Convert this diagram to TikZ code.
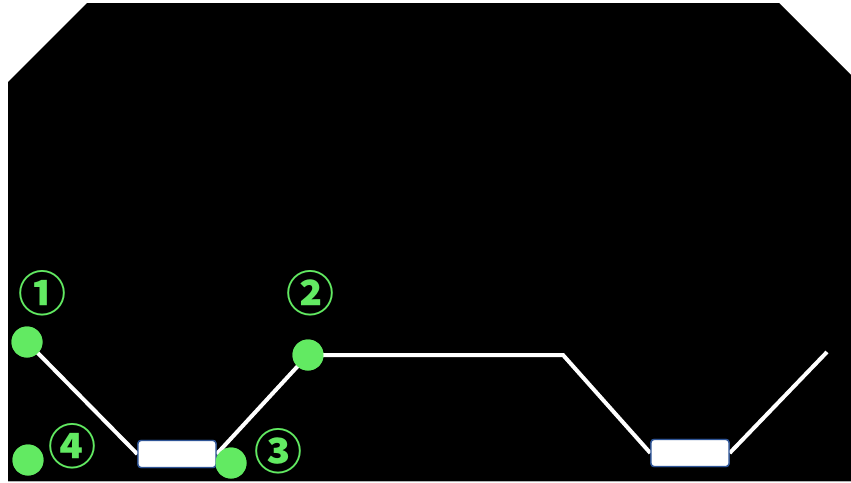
\documentclass[tikz,border=0pt]{standalone}
\usepackage{fontspec}
\newfontfamily\cjk{Noto Sans CJK JP}
\definecolor{dotgreen}{HTML}{62EA62}
\definecolor{rectblue}{HTML}{2F5597}
\begin{document}
\begin{tikzpicture}[x=1pt,y=-1pt,
  dot/.style={circle,fill=dotgreen,draw=none,minimum size=31pt,inner sep=0pt},
  num/.style={text=dotgreen,font=\cjk\bfseries\fontsize{48}{48}\selectfont,inner sep=0pt},
  box/.style={rectangle,rounded corners=3pt,fill=white,draw=rectblue,line width=1.4pt,minimum width=78pt,minimum height=27pt,inner sep=0pt},
  wire/.style={white,line width=4pt}]
\useasboundingbox (0,0) rectangle (851,482);
\fill[white] (0,0) rectangle (851,482);
\fill[black] (8,82) -- (87,3) -- (779,3) -- (852,76) -- (852,481) -- (8,481) -- cycle;
\draw[gray!60,line width=1pt] (8,481) -- (851,481);
% boxes
\node[box] (r1) at (177,454) {};
\node[box] (r2) at (690,453) {};
% coordinates
\coordinate (k1) at (563,355);
\coordinate (e1) at (827,352);
% dots
\node[dot] (d1) at (27,342) {};
\node[dot] (d2) at (308,355) {};
\node[dot] (d3) at (231,463) {};
\node[dot] (d4) at (28,460) {};
% wires
\draw[wire] (d1.center) -- (r1.west);
\draw[wire] (r1.east) -- (d2.center);
\draw[wire] (d2.center) -- (k1) -- (r2.west);
\draw[wire] (r2.east) -- (e1);
% redraw on top
\node[box] at (r1) {};
\node[box] at (r2) {};
\node[dot] at (d1) {};
\node[dot] at (d2) {};
\node[dot] at (d3) {};
\node[dot] at (d4) {};
% labels
\node[num] (n1) at (43,293) {①};
\node[num] (n2) at (310,293) {②};
\node[num] (n3) at (278,451) {③};
\node[num] (n4) at (72,446) {④};
\end{tikzpicture}
\end{document}
